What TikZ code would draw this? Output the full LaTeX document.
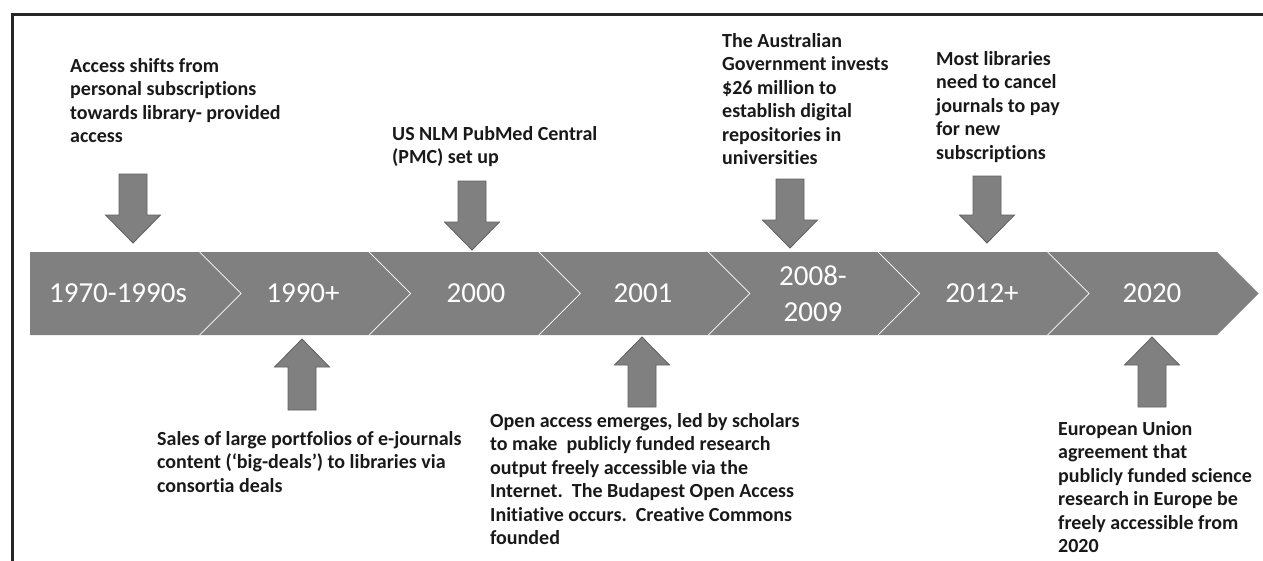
\documentclass[tikz,border=0pt]{standalone}
\usepackage{fontspec}
\setmainfont{Carlito}[Ligatures={TeX,NoCommon}]

% block arrows: centre x, first y, last y
\newcommand{\blockdown}[3]{\draw[blockarrow] (#1-14,#2) -- (#1+14,#2) -- (#1+14,#3-28) -- (#1+27.5,#3-28) -- (#1,#3) -- (#1-27.5,#3-28) -- (#1-14,#3-28) -- cycle;}
\newcommand{\blockup}[3]{\draw[blockarrow] (#1,#2) -- (#1+27.5,#2+28) -- (#1+14,#2+28) -- (#1+14,#3) -- (#1-14,#3) -- (#1-14,#2+28) -- (#1-27.5,#2+28) -- cycle;}

\begin{document}
\begin{tikzpicture}[x=1pt, y=-1pt,
  notebox/.style={font=\fontsize{20}{23.5}\selectfont\bfseries, align=left, anchor=base west, inner sep=0pt, text=black!90},
  yearlabel/.style={font=\fontsize{29}{36}\selectfont, align=center, text=white, inner sep=0pt},
  blockarrow/.style={fill=black!50, draw=black!62, line width=0.8pt},
  chevron/.style={draw=white, line width=0.7pt}]
\useasboundingbox (0,0) rectangle (1263,560);

% frame
\draw[line width=3pt, black!85] (12,562) -- (12,14) -- (1265,14);

% timeline band
\fill[black!50] (30,252) -- (1217.2,252) -- (1258.7,293.5) -- (1217.2,335) -- (30,335) -- cycle;
\draw[chevron] (199.6,252) -- ++(41.5,41.5) -- ++(-41.5,41.5);
\draw[chevron] (369.2,252) -- ++(41.5,41.5) -- ++(-41.5,41.5);
\draw[chevron] (538.8,252) -- ++(41.5,41.5) -- ++(-41.5,41.5);
\draw[chevron] (708.4,252) -- ++(41.5,41.5) -- ++(-41.5,41.5);
\draw[chevron] (878.0,252) -- ++(41.5,41.5) -- ++(-41.5,41.5);
\draw[chevron] (1047.6,252) -- ++(41.5,41.5) -- ++(-41.5,41.5);

\node[yearlabel] (y1970) at (118,293.5)  {1970-1990s};
\node[yearlabel] (y1990) at (303,293.5)  {1990+};
\node[yearlabel] (y2000) at (476,293.5)  {2000};
\node[yearlabel] (y2001) at (643,293.5)  {2001};
\node[yearlabel] (y2008) at (813,293.5)  {2008-\\2009};
\node[yearlabel] (y2012) at (982,293.5)  {2012+};
\node[yearlabel] (y2020) at (1152,293.5) {2020};

% events above (placed at the baseline of their last line)
\node[notebox] (access) at (70,142.5)  {Access shifts from\\personal subscriptions\\towards library- provided\\access};
\node[notebox] (pmc)    at (392,163.5) {US NLM PubMed Central\\(PMC) set up};
\node[notebox] (austr)  at (722,164.5) {The Australian\\Government invests\\\$26 million to\\establish digital\\repositories in\\universities};
\node[notebox] (cancel) at (936,159)   {Most libraries\\need to cancel\\journals to pay\\for new\\subscriptions};

\blockdown{133}{174}{243}
\blockdown{472}{181}{250}
\blockdown{790}{179}{248}
\blockdown{987}{176}{243}

% events below
\blockup{302}{339}{410}
\blockup{642}{337}{407}
\blockup{1152}{337}{407}

\node[notebox] (deals)  at (157,492)    {Sales of large portfolios of e-journals\\content (`big-deals') to libraries via\\consortia deals};
\node[notebox] (open)   at (490,544.5)  {Open access emerges, led by scholars\\to make\ \ publicly funded research\\output freely accessible via the\\Internet.\ \ The Budapest Open Access\\Initiative occurs.\ \ Creative Commons\\founded};
\node[notebox] (europe) at (1058,552.5) {European Union\\agreement that\\publicly funded science\\research in Europe be\\freely accessible from\\2020};
\end{tikzpicture}
\end{document}
